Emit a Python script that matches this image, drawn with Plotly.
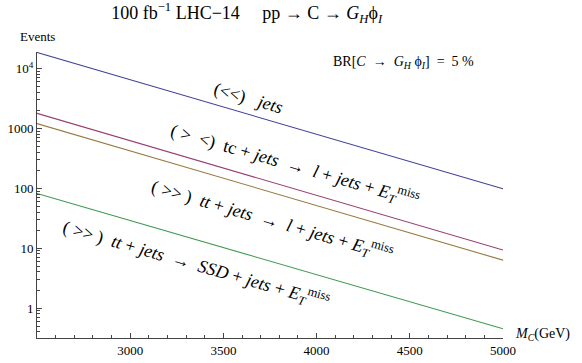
import plotly.graph_objects as go

# masses (GeV) and expected event counts
mass = [2500, 5000]
jets = [18500, 98]
tc_lepton = [1780, 9.3]
tt_lepton = [1200, 6.3]
tt_ssd = [82, 0.45]

series = [
    ("jets", jets, "#3D3D99"),
    ("tc lepton", tc_lepton, "#993D71"),
    ("tt lepton", tt_lepton, "#997A3D"),
    ("tt SSD", tt_ssd, "#3D9952"),
]

x_ticks = [3000, 3500, 4000, 4500, 5000]
y_ticks = [1, 10, 100, 1000, 10000]
y_ticktext = ["1", "10", "100", "1000", "10<sup>4</sup>"]
y_minor = [m * 10 ** e for e in range(-1, 5) for m in range(2, 10)]

SERIF = "Liberation Serif"
ETMISS = "<i>E</i><sub><i>T</i></sub><sup>miss</sup>"

fig = go.Figure()
for name, vals, col in series:
    fig.add_trace(go.Scatter(x=mass, y=vals, mode="lines", name=name,
                             line=dict(color=col, width=1.1), showlegend=False))

labels = [
    ("(&lt;&lt;)   <i>jets</i>", 3632, 3.507),
    ("( &gt;  &lt;)  tc + <i>jets</i>  →  <i>l</i> + <i>jets</i> + " + ETMISS, 3884, 2.372),
    ("( &gt;&gt; )  <i>tt</i> + <i>jets</i>  →  <i>l</i> + <i>jets</i> + " + ETMISS, 3761, 1.454),
    ("( &gt;&gt; )  <i>tt</i> + <i>jets</i>  →  <i>SSD</i> + <i>jets</i> + " + ETMISS, 3353, 0.719),
]
for txt, x, y in labels:
    fig.add_annotation(x=x, y=y, xref="x", yref="y", text=txt, showarrow=False,
                       textangle=16, font=dict(family=SERIF, size=18, color="black"))

fig.add_annotation(x=4464, y=4.108, xref="x", yref="y", showarrow=False,
                   text="BR[<i>C</i>  →  <i>G<sub>H</sub></i> ϕ<sub><i>I</i></sub>]  =  5 %",
                   font=dict(family=SERIF, size=14, color="black"))
fig.add_annotation(x=0, y=1, xref="paper", yref="paper", xanchor="center", yanchor="bottom",
                   yshift=6, text="Events", showarrow=False,
                   font=dict(family=SERIF, size=13, color="black"))
fig.add_annotation(x=1, y=0, xref="paper", yref="paper", xanchor="left", yanchor="middle",
                   xshift=10, yshift=4, text="<i>M<sub>C</sub></i>(GeV)", showarrow=False,
                   font=dict(family=SERIF, size=14, color="black"))

fig.update_layout(
    width=582, height=363,
    margin=dict(l=37, r=79, t=52, b=25),
    paper_bgcolor="white", plot_bgcolor="white",
    title=dict(text="100 fb<sup>−1</sup> LHC−14     pp → C → <i>G<sub>H</sub></i>ϕ<sub><i>I</i></sub>",
               x=0.45, xref="paper", y=0.965, yanchor="middle", xanchor="center",
               font=dict(family=SERIF, size=18, color="black")),
    font=dict(family=SERIF, size=13, color="black"),
)
fig.update_xaxes(range=[2500, 5000], tickvals=x_ticks, ticks="inside", ticklen=5,
                 tickcolor="#444", showline=True, linecolor="#444", linewidth=1,
                 showgrid=False, zeroline=False, automargin=False,
                 tickfont=dict(family=SERIF, size=13, color="black"),
                 minor=dict(dtick=100, ticks="inside", ticklen=3, tickcolor="#444", showgrid=False))
fig.update_yaxes(type="log", range=[-0.5, 4.275], tickvals=y_ticks, ticktext=y_ticktext,
                 ticks="inside", ticklen=5, tickcolor="#444", showline=True, linecolor="#444",
                 linewidth=1, showgrid=False, zeroline=False, automargin=False,
                 tickfont=dict(family=SERIF, size=13, color="black"),
                 minor=dict(tickvals=y_minor, ticks="inside", ticklen=3, tickcolor="#444", showgrid=False))

# the default page margin would push the 582x363 figure off the window
fig.write_html("out.html", config={"displayModeBar": False},
               post_script="document.body.style.margin='0';")
